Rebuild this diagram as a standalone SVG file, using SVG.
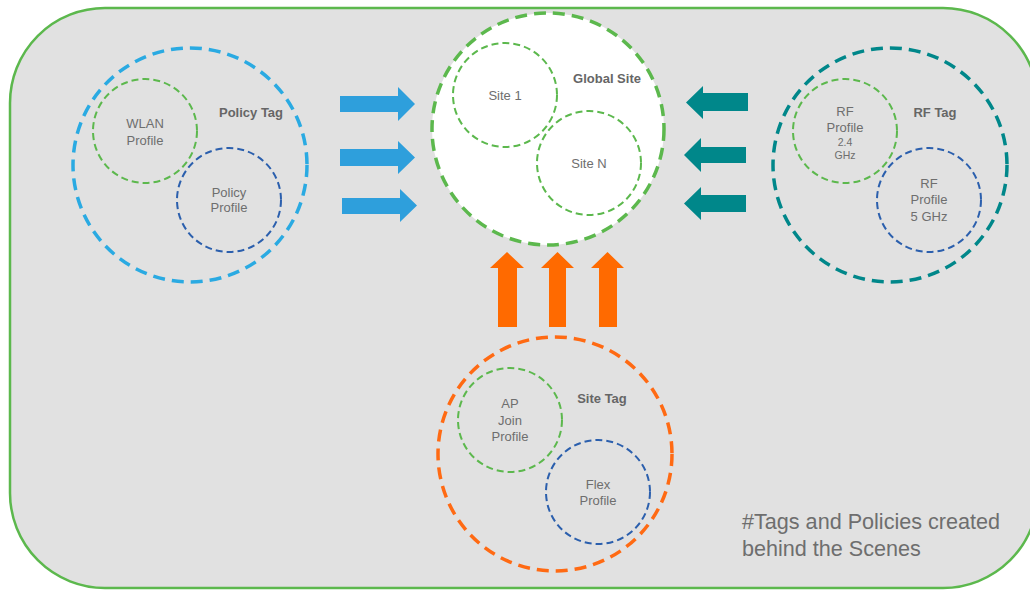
<svg xmlns="http://www.w3.org/2000/svg" width="1030" height="590" viewBox="0 0 1030 590">
  <style>
    .frame { fill: #e1e1e1; stroke: #5cb84d; stroke-width: 2.5; }
    .tag { fill: none; stroke-width: 3.5; stroke-dasharray: 12 7; }
    .sub { fill: none; stroke-width: 2; stroke-dasharray: 7 4; }
    .green { stroke: #5cb84d; }
    .navy { stroke: #2b5fad; }
    .sky { stroke: #2aaae2; }
    .teal { stroke: #00878a; }
    .orange { stroke: #ff6a13; }
    .lbl { font-family: "Liberation Sans", Arial, sans-serif; font-size: 13px; fill: #6e6e6e; text-anchor: middle; }
    .small { font-size: 10.5px; }
    .title { font-family: "Liberation Sans", Arial, sans-serif; font-size: 13px; font-weight: bold; fill: #666666; text-anchor: middle; }
    .note { font-family: "Liberation Sans", Arial, sans-serif; font-size: 21.6px; fill: #6e6e6e; }
  </style>

  <rect class="frame" x="10" y="8" width="1028" height="580" rx="95" ry="95"/>

  <g id="policy-tag">
    <circle class="tag sky" cx="190" cy="165" r="117"/>
    <text class="title" x="251" y="117">Policy Tag</text>
    <g id="wlan-profile">
      <circle class="sub green" cx="145" cy="131" r="52"/>
      <text class="lbl" x="145" y="128">WLAN</text>
      <text class="lbl" x="145" y="145">Profile</text>
    </g>
    <g id="policy-profile">
      <circle class="sub navy" cx="229" cy="200" r="52"/>
      <text class="lbl" x="229" y="197">Policy</text>
      <text class="lbl" x="229" y="212">Profile</text>
    </g>
  </g>

  <g id="global-site">
    <circle class="tag green" cx="548" cy="129" r="116" style="fill:#ffffff"/>
    <text class="title" x="607" y="83">Global Site</text>
    <g id="site-1">
      <circle class="sub green" cx="505" cy="95" r="52"/>
      <text class="lbl" x="505" y="100">Site 1</text>
    </g>
    <g id="site-n">
      <circle class="sub green" cx="589" cy="163" r="52"/>
      <text class="lbl" x="589" y="168">Site N</text>
    </g>
  </g>

  <g id="rf-tag">
    <circle class="tag teal" cx="890" cy="165" r="117"/>
    <text class="title" x="935" y="117">RF Tag</text>
    <g id="rf-profile-24">
      <circle class="sub green" cx="845" cy="131" r="52"/>
      <text class="lbl" x="845" y="116">RF</text>
      <text class="lbl" x="845" y="132">Profile</text>
      <text class="lbl small" x="845" y="146">2.4</text>
      <text class="lbl small" x="845" y="159">GHz</text>
    </g>
    <g id="rf-profile-5">
      <circle class="sub navy" cx="929" cy="200" r="52"/>
      <text class="lbl" x="929" y="188">RF</text>
      <text class="lbl" x="929" y="204">Profile</text>
      <text class="lbl" x="929" y="221">5 GHz</text>
    </g>
  </g>

  <g id="site-tag">
    <circle class="tag orange" cx="555" cy="454" r="117"/>
    <text class="title" x="602" y="403">Site Tag</text>
    <g id="ap-join-profile">
      <circle class="sub green" cx="510" cy="420" r="52"/>
      <text class="lbl" x="510" y="408">AP</text>
      <text class="lbl" x="510" y="425">Join</text>
      <text class="lbl" x="510" y="441">Profile</text>
    </g>
    <g id="flex-profile">
      <circle class="sub navy" cx="598" cy="492" r="52"/>
      <text class="lbl" x="598" y="489">Flex</text>
      <text class="lbl" x="598" y="505">Profile</text>
    </g>
  </g>

  <g id="connectors">
    <!-- policy tag into global site -->
    <g fill="#2e9fdc">
      <polygon points="340,96 398,96 398,87 415,104 398,121 398,112 340,112"/>
      <polygon points="340,149 398,149 398,141 415,157.5 398,174 398,166 340,166"/>
      <polygon points="342,198 400,198 400,189 417,205.5 400,222 400,214 342,214"/>
    </g>
    <!-- rf tag into global site -->
    <g fill="#00878a">
      <polygon points="748,93 703,93 703,86 686,102.5 703,119 703,111 748,111"/>
      <polygon points="746,147 701,147 701,138 684,155 701,172 701,163 746,163"/>
      <polygon points="746,195 701,195 701,187 684,203.5 701,220 701,212 746,212"/>
    </g>
    <!-- site tag into global site -->
    <g fill="#ff6a00">
      <polygon points="498,327 498,268 490,268 507,252 524,268 517,268 517,327"/>
      <polygon points="549,327 549,268 541,268 557.5,252 574,268 566,268 566,327"/>
      <polygon points="599,327 599,268 591,268 607.5,252 624,268 617,268 617,327"/>
    </g>
  </g>

  <text class="note" x="742" y="529">#Tags and Policies created</text>
  <text class="note" x="742" y="556">behind the Scenes</text>
</svg>
